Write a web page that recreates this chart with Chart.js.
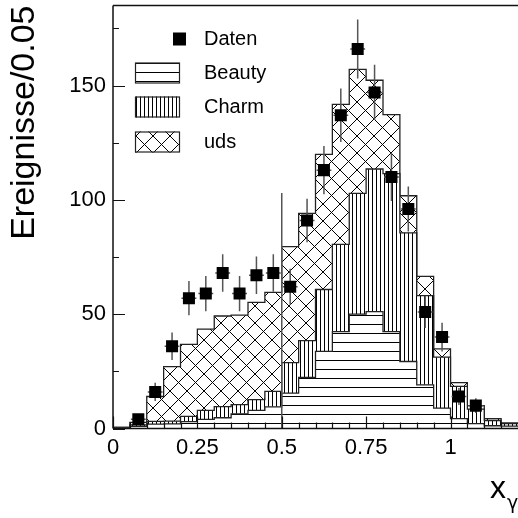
<!DOCTYPE html>
<html>
<head>
<meta charset="utf-8">
<script src="https://cdn.jsdelivr.net/npm/chart.js@4.4.1/dist/chart.umd.min.js"></script>
<style>
  html, body { margin: 0; padding: 0; background: #fff; }
  #wrap { width: 518px; height: 518px; }
</style>
</head>
<body>
<div id="wrap"><canvas id="c" width="518" height="518"></canvas></div>
<script>
// x_gamma histogram, bins of width 0.05
const binWidth = 0.05;
const binCentres = [0.025, 0.075, 0.125, 0.175, 0.225, 0.275, 0.325, 0.375, 0.425, 0.475,
                    0.525, 0.575, 0.625, 0.675, 0.725, 0.775, 0.825, 0.875, 0.925, 0.975,
                    1.025, 1.075, 1.125, 1.175];

// Monte Carlo contributions per bin (stacked: Beauty, Charm, uds)
const beauty = [0.3, 0.9, 1.9, 2.0, 3.0, 4.0, 4.7, 6.4, 7.9, 9.5,
                15.5, 22.3, 33.7, 42.4, 50.0, 51.1, 42.4, 29.3, 19.1, 8.9,
                4.3, 2.1, 1.2, 1.0];
const charm  = [0.2, 0.7, 1.2, 1.2, 2.3, 3.9, 4.9, 4.0, 4.7, 6.7,
                13.3, 16.1, 27.1, 38.1, 52.8, 62.4, 69.1, 56.3, 39.0, 22.3,
                14.1, 6.4, 2.3, 1.1];
const uds    = [0.0, 1.1, 10.9, 23.9, 31.5, 35.6, 39.6, 39.2, 42.6, 43.3,
                50.7, 55.7, 59.1, 61.3, 54.3, 38.8, 25.8, 16.2, 8.4, 3.6,
                1.7, 1.5, 0.8, 0.3];

// Measured events and their statistical errors
const daten      = [null, 4, 16, 36, 57, 59, 68, 59, 67, 68,
                    62, 91, 113, 137, 166, 147, 110, 96, 51, 40,
                    14, 10, null, null];
const datenError = [null, 2.0, 4.0, 6.0, 7.5, 7.7, 8.2, 7.7, 8.2, 8.2,
                    7.9, 9.5, 10.6, 11.7, 12.9, 12.1, 10.5, 9.8, 7.1, 6.3,
                    3.7, 3.2, null, null];

// vertical marker line at x_gamma = 0.5
const cutX = 0.5;
const cutTop = 103;

const xTickValues = [0, 0.25, 0.5, 0.75, 1];
const xTickLabels = ['0', '0.25', '0.5', '0.75', '1'];
const yTickValues = [0, 50, 100, 150];
const yTickLabels = ['0', '50', '100', '150'];
const legendLabels = ['Daten', 'Beauty', 'Charm', 'uds'];

const FONT = "'Liberation Sans', Arial, Helvetica, sans-serif";

// step outlines: one point per lower bin edge plus the upper edge of the last bin
function stepPoints(values) {
  const pts = binCentres.map((c, i) => ({ x: c - binWidth / 2, y: values[i] }));
  const last = binCentres.length - 1;
  pts.push({ x: binCentres[last] + binWidth / 2, y: values[last] });
  return pts;
}

const canvas = document.getElementById('c');
const ctx = canvas.getContext('2d');

function makeHatch(kind) {
  const t = document.createElement('canvas');
  let w, h;
  if (kind === 'h') { w = 8; h = 9; }
  else if (kind === 'v') { w = 4; h = 8; }
  else { w = 17; h = 17; }
  t.width = w; t.height = h;
  const g = t.getContext('2d');
  g.fillStyle = '#fff';
  g.fillRect(0, 0, w, h);
  g.strokeStyle = '#000';
  g.lineWidth = 1;
  g.beginPath();
  if (kind === 'h') { g.moveTo(0, 0.5); g.lineTo(w, 0.5); }
  else if (kind === 'v') { g.moveTo(0.5, 0); g.lineTo(0.5, h); }
  else {
    g.moveTo(-2, -2); g.lineTo(w + 2, h + 2);
    g.moveTo(w + 2, -2); g.lineTo(-2, h + 2);
  }
  g.stroke();
  return ctx.createPattern(t, 'repeat');
}

const hatchBeauty = makeHatch('h');
const hatchCharm = makeHatch('v');
const hatchUds = makeHatch('x');

const outlineColor = '#222';

const decor = {
  id: 'decor',
  beforeDatasetDraw(chart, args) {
    if (args.index !== 0) return;
    const xs = chart.scales.x, ys = chart.scales.y;
    const c = chart.ctx;
    c.save();
    c.strokeStyle = '#555';
    c.lineWidth = 1.5;
    daten.forEach((v, i) => {
      if (v === null) return;
      const px = xs.getPixelForValue(binCentres[i]);
      const py = ys.getPixelForValue(v);
      const pTop = ys.getPixelForValue(v + datenError[i]);
      const pBot = ys.getPixelForValue(v - datenError[i]);
      const pl = xs.getPixelForValue(binCentres[i] - 0.022);
      const pr = xs.getPixelForValue(binCentres[i] + 0.022);
      c.beginPath();
      c.moveTo(px, pTop); c.lineTo(px, pBot);
      c.moveTo(pl, py); c.lineTo(pr, py);
      c.stroke();
    });
    c.restore();
  },
  afterDraw(chart) {
    const { ctx: c, chartArea: a } = chart;
    const xs = chart.scales.x, ys = chart.scales.y;
    c.save();
    // frame (left, bottom, top)
    c.strokeStyle = '#111';
    c.lineWidth = 1.5;
    c.beginPath();
    c.moveTo(a.left, a.top); c.lineTo(a.left, a.bottom);
    c.moveTo(a.left, a.bottom); c.lineTo(a.right + 2, a.bottom);
    c.moveTo(a.left, a.top); c.lineTo(a.right + 2, a.top);
    c.stroke();
    // tick marks inside the frame
    c.lineWidth = 1.2;
    c.beginPath();
    for (let v = 0; v <= ys.max + 1e-9; v += 25) {
      const py = Math.round(ys.getPixelForValue(v)) + 0.5;
      const len = (v % 50 === 0) ? 12 : 6;
      c.moveTo(a.left, py); c.lineTo(a.left + len, py);
    }
    for (let k = 0; k * binWidth <= xs.max + 1e-9; k++) {
      const v = k * binWidth;
      const px = Math.round(xs.getPixelForValue(v)) + 0.5;
      const len = (k % 5 === 0) ? 12 : 6;
      c.moveTo(px, a.bottom); c.lineTo(px, a.bottom - len);
    }
    c.stroke();

    // legend
    c.font = '20px ' + FONT;
    c.fillStyle = '#000';
    c.textBaseline = 'middle';
    c.textAlign = 'left';
    const textX = 204;
    const rows = [39, 73, 107, 142];
    c.fillRect(173, rows[0] - 6.5, 13, 13);
    const fills = [hatchBeauty, hatchCharm, hatchUds];
    for (let k = 1; k < 4; k++) {
      const y0 = rows[k] - 10.5;
      c.fillStyle = fills[k - 1];
      c.fillRect(135, y0, 45, 21);
      c.strokeStyle = outlineColor;
      c.lineWidth = 1.2;
      c.strokeRect(135.5, y0 + 0.5, 44, 20);
    }
    c.fillStyle = '#000';
    legendLabels.forEach((t, k) => c.fillText(t, textX, rows[k]));

    // x axis title: x_gamma
    c.textBaseline = 'alphabetic';
    c.font = '32px ' + FONT;
    c.fillText('x', 490, 497.5);
    c.font = "19px 'DejaVu Sans', sans-serif";
    c.fillText('\u03b3', 507, 509);
    c.restore();
  }
};

new Chart(ctx, {
  type: 'line',
  data: {
    datasets: [
      {
        label: legendLabels[0],
        type: 'scatter',
        stack: 'daten',
        data: binCentres.map((c, i) => ({ x: c, y: daten[i] })).filter(p => p.y !== null),
        pointStyle: 'rect',
        pointRadius: 8.5,
        pointBackgroundColor: '#000',
        pointBorderWidth: 0,
        showLine: false
      },
      {
        label: 'cut',
        stack: 'cut',
        data: [{ x: cutX, y: 0 }, { x: cutX, y: cutTop }],
        borderColor: '#555',
        borderWidth: 1.5,
        pointRadius: 0,
        fill: false
      },
      {
        label: legendLabels[1],
        stack: 'mc',
        data: stepPoints(beauty),
        stepped: true,
        borderColor: outlineColor,
        borderWidth: 1.3,
        backgroundColor: hatchBeauty,
        pointRadius: 0,
        fill: 'origin'
      },
      {
        label: legendLabels[2],
        stack: 'mc',
        data: stepPoints(charm),
        stepped: true,
        borderColor: outlineColor,
        borderWidth: 1.3,
        backgroundColor: hatchCharm,
        pointRadius: 0,
        fill: '-1'
      },
      {
        label: legendLabels[3],
        stack: 'mc',
        data: stepPoints(uds),
        stepped: true,
        borderColor: outlineColor,
        borderWidth: 1.3,
        backgroundColor: hatchUds,
        pointRadius: 0,
        fill: '-1'
      }
    ]
  },
  options: {
    responsive: false,
    animation: false,
    events: [],
    layout: { autoPadding: false, padding: { top: 5.5, left: 0, right: 0, bottom: 0 } },
    plugins: { legend: { display: false }, tooltip: { enabled: false } },
    scales: {
      x: {
        type: 'linear',
        min: 0,
        max: 1.2,
        grid: { display: false, drawTicks: false },
        border: { display: false },
        afterBuildTicks: s => { s.ticks = xTickValues.map(v => ({ value: v })); },
        afterFit: s => { s.height = 89.5; s.paddingLeft = 0; s.paddingRight = 0; },
        ticks: {
          padding: 6,
          color: '#000',
          font: { family: FONT, size: 22 },
          maxRotation: 0,
          autoSkip: false,
          callback: v => xTickLabels[xTickValues.indexOf(v)]
        }
      },
      y: {
        type: 'linear',
        stacked: true,
        min: 0,
        max: 185,
        grid: { display: false, drawTicks: false },
        border: { display: false },
        afterBuildTicks: s => { s.ticks = yTickValues.map(v => ({ value: v })); },
        afterFit: s => { s.width = 113; s.paddingTop = 0; s.paddingBottom = 0; },
        ticks: {
          padding: 7,
          color: '#000',
          font: { family: FONT, size: 22 },
          callback: v => yTickLabels[yTickValues.indexOf(v)]
        },
        title: {
          display: true,
          text: 'Ereignisse/0.05',
          align: 'end',
          color: '#000',
          font: { family: FONT, size: 34 },
          padding: { top: 4, bottom: 0 }
        }
      }
    }
  },
  plugins: [decor]
});
</script>
</body>
</html>
